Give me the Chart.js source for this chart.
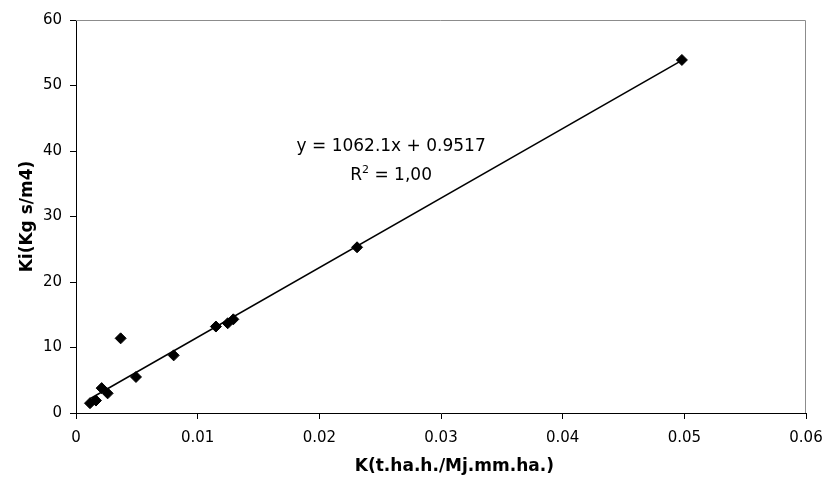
<!DOCTYPE html>
<html>
<head>
<meta charset="utf-8">
<script src="https://cdn.jsdelivr.net/npm/chart.js@4.4.1/dist/chart.umd.min.js"></script>
<style>
  html, body { margin: 0; padding: 0; background: #fff; }
  #wrap { width: 827px; height: 481px; }
</style>
</head>
<body>
<div id="wrap"><canvas id="myChart" width="827" height="481"></canvas></div>
<script>
// K values (x) and Ki values (y)
var kValues = [0.00115, 0.00164, 0.00211, 0.0026, 0.00367, 0.00493, 0.00803, 0.0115, 0.01247, 0.01293, 0.0231, 0.0498]
var kiValues = [1.5, 1.9, 3.8, 3.0, 11.4, 5.5, 8.8, 13.2, 13.7, 14.3, 25.3, 53.9]

// linear trendline shown on the chart
var slope = 1062.1
var intercept = 0.9517
var eqText = 'y = 1062.1x + 0.9517'
var r2Text = '1,00'

var xTitle = 'K(t.ha.h./Mj.mm.ha.)'
var yTitle = 'Ki(Kg s/m4)'

var points = kValues.map(function (k, i) {
  return { x: k, y: kiValues[i] }
})
var kMin = Math.min.apply(null, kValues)
var kMax = Math.max.apply(null, kValues)
var trend = [
  { x: kMin, y: slope * kMin + intercept },
  { x: kMax, y: slope * kMax + intercept }
]

var FONT = "'DejaVu Sans', sans-serif"

// gray frame on top / right of the plot area
var framePlugin = {
  id: 'frame',
  beforeDatasetsDraw: function (chart) {
    var a = chart.chartArea
    var ctx = chart.ctx
    ctx.save()
    ctx.strokeStyle = '#8c8c8c'
    ctx.lineWidth = 1
    ctx.beginPath()
    ctx.moveTo(a.left, a.top + 0.5)
    ctx.lineTo(a.right - 0.5, a.top + 0.5)
    ctx.lineTo(a.right - 0.5, a.bottom)
    ctx.stroke()
    ctx.restore()
  }
}

// equation label + x axis title
var eqPlugin = {
  id: 'equation',
  afterDraw: function (chart) {
    var ctx = chart.ctx
    var xs = chart.scales.x
    var ys = chart.scales.y
    var cx = xs.getPixelForValue(0.0259)
    var y1 = ys.getPixelForValue(40.0)
    var y2 = ys.getPixelForValue(35.6)
    ctx.save()
    ctx.fillStyle = '#000'
    ctx.textBaseline = 'alphabetic'
    ctx.font = '17px ' + FONT
    ctx.textAlign = 'center'
    ctx.fillText(eqText, cx, y1)
    // R^2 line
    var wR = ctx.measureText('R').width
    var rest = ' = ' + r2Text
    var wRest = ctx.measureText(rest).width
    ctx.font = '11px ' + FONT
    var w2 = ctx.measureText('2').width
    var total = wR + w2 + wRest
    var x0 = cx - total / 2
    ctx.textAlign = 'left'
    ctx.font = '17px ' + FONT
    ctx.fillText('R', x0, y2)
    ctx.font = '11px ' + FONT
    ctx.fillText('2', x0 + wR, y2 - 7)
    ctx.font = '17px ' + FONT
    ctx.fillText(rest, x0 + wR + w2, y2)

    // x axis title, a little right of the axis middle as in the original
    ctx.font = 'bold 17px ' + FONT
    ctx.textAlign = 'center'
    ctx.textBaseline = 'middle'
    ctx.fillText(xTitle, xs.getPixelForValue(0.0311), xs.bottom - 14)
    ctx.restore()
  }
}

var ctx = document.getElementById('myChart')
var myChart = new Chart(ctx, {
  type: 'scatter',
  data: {
    datasets: [
      {
        label: 'Ki',
        data: points,
        pointStyle: 'rectRot',
        pointRadius: 5.5,
        backgroundColor: '#000',
        borderColor: '#000',
        borderWidth: 1,
        order: 1
      },
      {
        type: 'line',
        label: 'trend',
        data: trend,
        borderColor: '#000',
        borderWidth: 1.5,
        pointRadius: 0,
        fill: false,
        order: 2
      }
    ]
  },
  options: {
    responsive: false,
    animation: false,
    layout: { padding: { top: 20, right: 21, left: 0, bottom: 0 } },
    plugins: {
      legend: { display: false },
      tooltip: { enabled: false }
    },
    scales: {
      x: {
        type: 'linear',
        min: 0,
        max: 0.06,
        afterFit: function (scale) {
          scale.height = 68
          scale.paddingLeft = 0
          scale.paddingRight = 0
        },
        border: { color: '#000', width: 1 },
        grid: { drawOnChartArea: false, color: '#000', tickLength: 6 },
        ticks: {
          stepSize: 0.01,
          color: '#000',
          padding: 10,
          maxRotation: 0,
          font: { family: FONT, size: 15 },
          callback: function (v) { return v === 0 ? '0' : v.toFixed(2) }
        }
      },
      y: {
        type: 'linear',
        min: 0,
        max: 60,
        afterFit: function (scale) {
          scale.width = 76
          scale.paddingTop = 0
          scale.paddingBottom = 0
        },
        border: { color: '#000', width: 1 },
        grid: { drawOnChartArea: false, color: '#000', tickLength: 6 },
        ticks: {
          stepSize: 10,
          color: '#000',
          padding: 8,
          font: { family: FONT, size: 15 }
        },
        title: {
          display: true,
          text: yTitle,
          color: '#000',
          font: { family: FONT, size: 17, weight: 'bold' },
          padding: { top: 17, bottom: 0 }
        }
      }
    }
  },
  plugins: [framePlugin, eqPlugin]
})
</script>
</body>
</html>
